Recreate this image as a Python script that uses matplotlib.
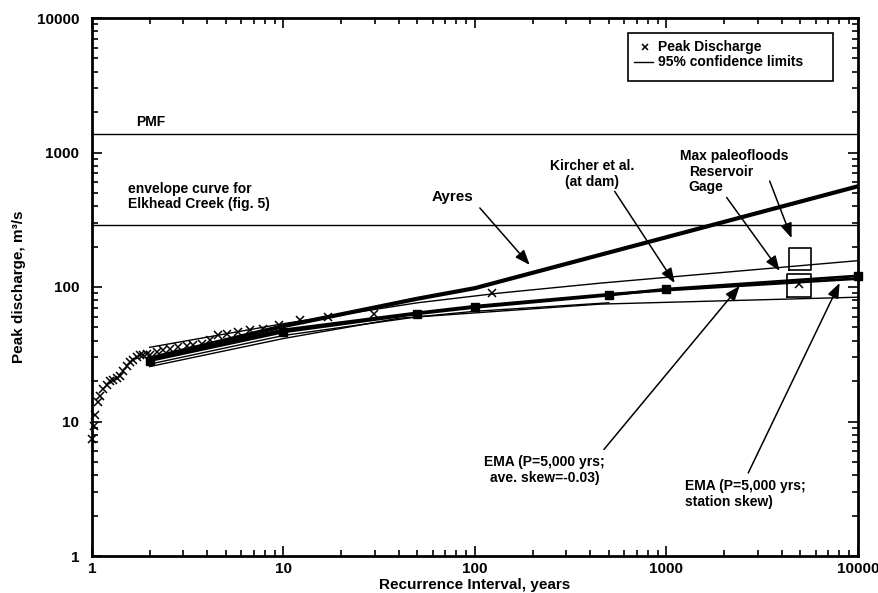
import matplotlib.pyplot as plt
from matplotlib.patches import Rectangle
from matplotlib.ticker import FuncFormatter, LogLocator, NullFormatter

plt.rcParams['font.family'] = ['Liberation Sans', 'DejaVu Sans']
plt.rcParams['font.weight'] = 'bold'

# observed annual peaks (plotting positions) + paleoflood peak
peak_ri = [1.005, 1.02, 1.04, 1.075, 1.10, 1.14, 1.20, 1.24, 1.29, 1.35, 1.40,
           1.45, 1.52, 1.58, 1.64, 1.72, 1.78, 1.85, 1.94, 2.0, 2.18, 2.35,
           2.55, 2.81, 3.13, 3.37, 3.75, 4.13, 4.54, 5.06, 5.78, 6.67, 7.80,
           9.47, 12.2, 17.0, 29.6, 123, 4900]
peak_q = [7.4, 9.2, 11.1, 14.0, 15.5, 17.4, 18.7, 20.0, 20.5, 21.1, 21.9,
          23.9, 26.0, 27.5, 28.9, 30.0, 31.1, 31.1, 31.6, 31.1, 32.7, 33.9,
          34.4, 35.6, 36.3, 37.1, 37.7, 40.3, 44.0, 44.8, 46.3, 48.0, 48.8,
          52.3, 57.1, 60.3, 62.5, 90.0, 105]

# frequency curves
ema_ri = [2, 10, 50, 100, 500, 1000, 10000]
ema_station_q = [28.3, 46.3, 63.2, 70.5, 86.9, 96.5, 121]
ema_ave_q = [29.4, 48.0, 64.3, 72.0, 88.3, 94.8, 115.5]

ayres_ri = [2, 10, 50, 100, 10000]
ayres_q = [29.4, 51.2, 81.8, 98.1, 561]

upper_ri = [2, 10, 50, 133, 450, 10000]
upper_q = [35.6, 53.4, 76.3, 90.0, 106.8, 157]

lower_ri = [2, 10, 40, 450, 10000]
lower_q = [25.6, 41.4, 58.6, 74.6, 84.0]

lower2_ri = [2, 10, 50, 100, 500]
lower2_q = [26.7, 43.6, 60.0, 66.0, 76.3]

pmf_q = 1373
envelope_q = 289

# paleoflood boxes (recurrence interval range, discharge range)
box_res_ri = [4350, 5660]
box_res_q = [134, 194]
box_gage_ri = [4240, 5660]
box_gage_q = [84, 125]


def box(ax, ri, q):
    ax.plot([ri[0], ri[1], ri[1], ri[0], ri[0]],
            [q[0], q[0], q[1], q[1], q[0]], color='black', lw=1.2)


fig = plt.figure(figsize=(8.79, 5.93), dpi=100)
ax = fig.add_axes([92/879, 1-556/593, (858-92)/879, (556-18)/593])
ax.set_xscale('log')
ax.set_yscale('log')
ax.set_xlim(1, 10000)
ax.set_ylim(1, 10000)

ax.axhline(pmf_q, color='black', lw=1)
ax.axhline(envelope_q, color='black', lw=1)

ax.plot(upper_ri, upper_q, color='black', lw=1)
ax.plot(lower_ri, lower_q, color='black', lw=1)
ax.plot(lower2_ri, lower2_q, color='black', lw=1)
ax.plot(ayres_ri, ayres_q, color='black', lw=3)
ax.plot(ema_ri, ema_ave_q, color='black', lw=2)
ax.plot(ema_ri, ema_station_q, color='black', lw=2, marker='s', ms=5.5,
        clip_on=False)
ax.plot(peak_ri, peak_q, 'x', color='black', ms=6, mew=1.1, clip_on=False)

box(ax, box_res_ri, box_res_q)
box(ax, box_gage_ri, box_gage_q)

# legend box, drawn by hand to get the wide right margin
ax.add_patch(Rectangle((0.700, 0.883), 0.267, 0.089, transform=ax.transAxes,
                       facecolor='white', edgecolor='black', lw=1.2, zorder=5))
ax.plot([0.722], [0.946], 'x', color='black', ms=4.5, mew=1.1,
        transform=ax.transAxes, zorder=6)
ax.plot([0.708, 0.733], [0.918, 0.918], color='black', lw=1,
        transform=ax.transAxes, zorder=6)
ax.text(0.739, 0.946, 'Peak Discharge', fontsize=10, va='center',
        transform=ax.transAxes, zorder=6)
ax.text(0.739, 0.918, '95% confidence limits', fontsize=10, va='center',
        transform=ax.transAxes, zorder=6)

# labels
fs = 10
ax.text(1.70, 1685, 'PMF', fontsize=fs, va='center', ha='left')
ax.text(1.54, 472, 'envelope curve for\nElkhead Creek (fig. 5)', fontsize=fs,
        va='center', ha='left', linespacing=1.1)
ax.text(1172, 947, 'Max paleofloods', fontsize=fs, va='center', ha='left')
ax.text(1306, 717, 'Reservoir', fontsize=fs, va='center', ha='left')
ax.text(1306, 553, 'Gage', fontsize=fs, va='center', ha='left')

arrow = dict(arrowstyle='-|>,head_length=0.9,head_width=0.35', color='black',
             lw=1.1, shrinkA=0, shrinkB=0)
ax.text(76.6, 465, 'Ayres', fontsize=11, ha='center', va='center')
ax.annotate('', xy=(193, 146), xytext=(106, 387), arrowprops=arrow)
ax.annotate('Kircher et al.\n(at dam)', xy=(1104, 107), xytext=(407, 692),
            fontsize=fs, ha='center', va='center', linespacing=1.1,
            arrowprops=dict(arrow, relpos=(0.75, 0.0)))
ax.annotate('', xy=(4500, 231), xytext=(3458, 613), arrowprops=arrow)
ax.annotate('', xy=(3899, 132), xytext=(2061, 463), arrowprops=arrow)
ax.annotate('EMA (P=5,000 yrs;\nave. skew=-0.03)', xy=(2410, 101.7),
            xytext=(231, 4.36), fontsize=fs, ha='center', va='center',
            linespacing=1.1,
            arrowprops=dict(arrow, relpos=(0.95, 1.0), shrinkA=3))
ax.annotate('EMA (P=5,000 yrs;\nstation skew)', xy=(8017, 107),
            xytext=(1245, 2.89), fontsize=fs, ha='left', va='center',
            linespacing=1.1,
            arrowprops=dict(arrow, relpos=(0.5, 1.0), shrinkA=3))

# axes styling
fmt = FuncFormatter(lambda v, p: '%d' % v)
for axis in (ax.xaxis, ax.yaxis):
    axis.set_major_locator(LogLocator(base=10, numticks=10))
    axis.set_minor_locator(LogLocator(base=10, subs=range(2, 10), numticks=50))
    axis.set_major_formatter(fmt)
    axis.set_minor_formatter(NullFormatter())
ax.tick_params(which='both', direction='in', top=True, right=True, width=1.2)
ax.tick_params(which='major', length=7, labelsize=11)
ax.tick_params(which='minor', length=4)
ax.tick_params(axis='x', which='major', pad=4)
ax.tick_params(axis='y', which='major', pad=9)
for lbl in ax.get_xticklabels() + ax.get_yticklabels():
    lbl.set_fontweight('bold')
for s in ax.spines.values():
    s.set_linewidth(2)

ax.set_xlabel('Recurrence Interval, years', fontsize=11, fontweight='bold',
              labelpad=2)
ax.set_ylabel('Peak discharge, m³/s', fontsize=11, fontweight='bold',
              labelpad=8)

fig.savefig('out.png', dpi=100)
